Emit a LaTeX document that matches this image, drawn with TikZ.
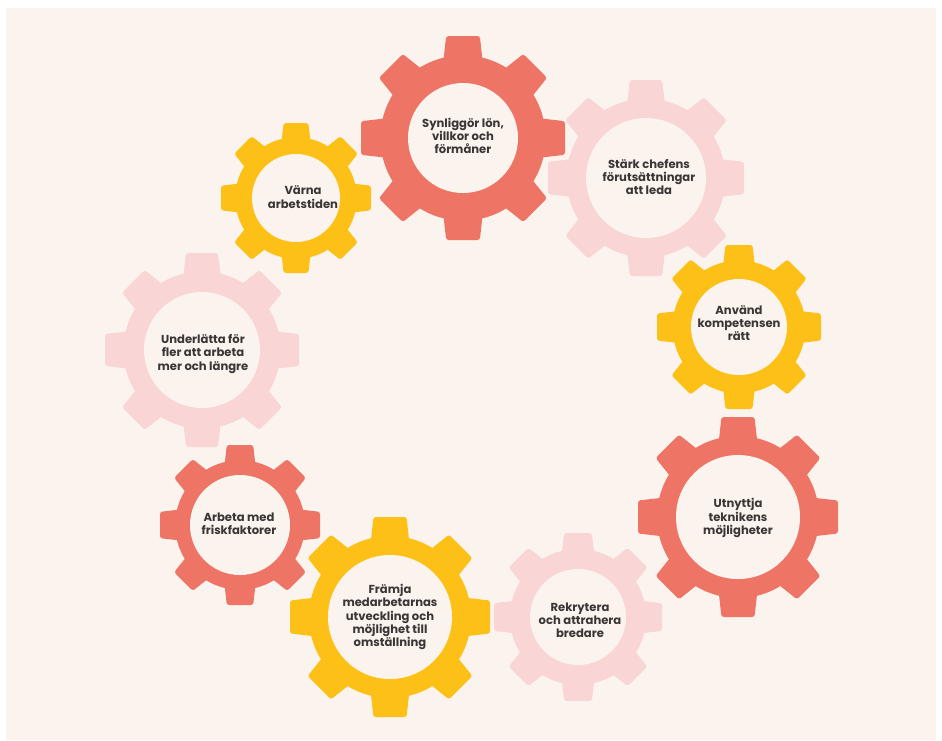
\documentclass[tikz,border=0pt]{standalone}
\usepackage{fontspec}
\setmainfont{Poppins}
\definecolor{bgc}{HTML}{FBF4EE}
\definecolor{gred}{HTML}{EE7566}
\definecolor{gpink}{HTML}{F9D5D5}
\definecolor{gyel}{HTML}{FCC017}
\definecolor{txt}{HTML}{3A3636}
\newcommand{\gearfill}[5]{% x, y, tip radius, hole radius, colour
  \fill[#5] (#1,#2) circle[radius=0.81*#3];
  \foreach \a in {0,45,...,315}{
    \begin{scope}[shift={(#1,#2)}, rotate=\a]
      \fill[#5, rounded corners=2.5pt] (0.6*#3,-0.21*#3) -- (#3,-0.165*#3) -- (#3,0.165*#3) -- (0.6*#3,0.21*#3) -- cycle;
    \end{scope}
  }
  \fill[bgc] (#1,#2) circle[radius=#4];
}
\tikzset{lbl/.style={align=center, text=txt, font=\fontsize{11.6}{13.2}\selectfont\bfseries, inner sep=0pt}}
\begin{document}
\begin{tikzpicture}[x=1pt, y=-1pt]
\useasboundingbox (0,0) rectangle (942,740);
\fill[white] (0,0) rectangle (942,740);
\fill[bgc] (6,8) rectangle (936,740);
% pink gears
\gearfill{646}{178}{98}{60}{gpink}
\gearfill{202}{350}{97}{58}{gpink}
\gearfill{578}{617}{84}{48}{gpink}
% yellow gears
\gearfill{296}{198}{75}{44}{gyel}
\gearfill{739}{327}{82}{48}{gyel}
\gearfill{390}{617}{100}{62}{gyel}
% red gears
\gearfill{463}{138}{102}{55}{gred}
\gearfill{738}{517}{100}{62}{gred}
\gearfill{240}{525}{80}{50}{gred}
% labels
\node[lbl] (synl) at (463,136) {Synliggör lön,\\villkor och\\förmåner};
\node[lbl] (stark) at (649,177) {Stärk chefens\\förutsättningar\\att leda};
\node[lbl] (varna) at (303,197) {Värna\\arbetstiden};
\node[lbl] (underl) at (203,354) {Underlätta för\\fler att arbeta\\mer och längre};
\node[lbl] (anvand) at (739,323) {Använd\\kompetensen\\rätt};
\node[lbl] (utnyt) at (738,518) {Utnyttja\\teknikens\\möjligheter};
\node[lbl] (arbeta) at (239,524) {Arbeta med\\friskfaktorer};
\node[lbl] (framja) at (390,617) {Främja\\medarbetarnas\\utveckling och\\möjlighet till\\omställning};
\node[lbl] (rekr) at (580,620) {Rekrytera\\och attrahera\\bredare};
\end{tikzpicture}
\end{document}
